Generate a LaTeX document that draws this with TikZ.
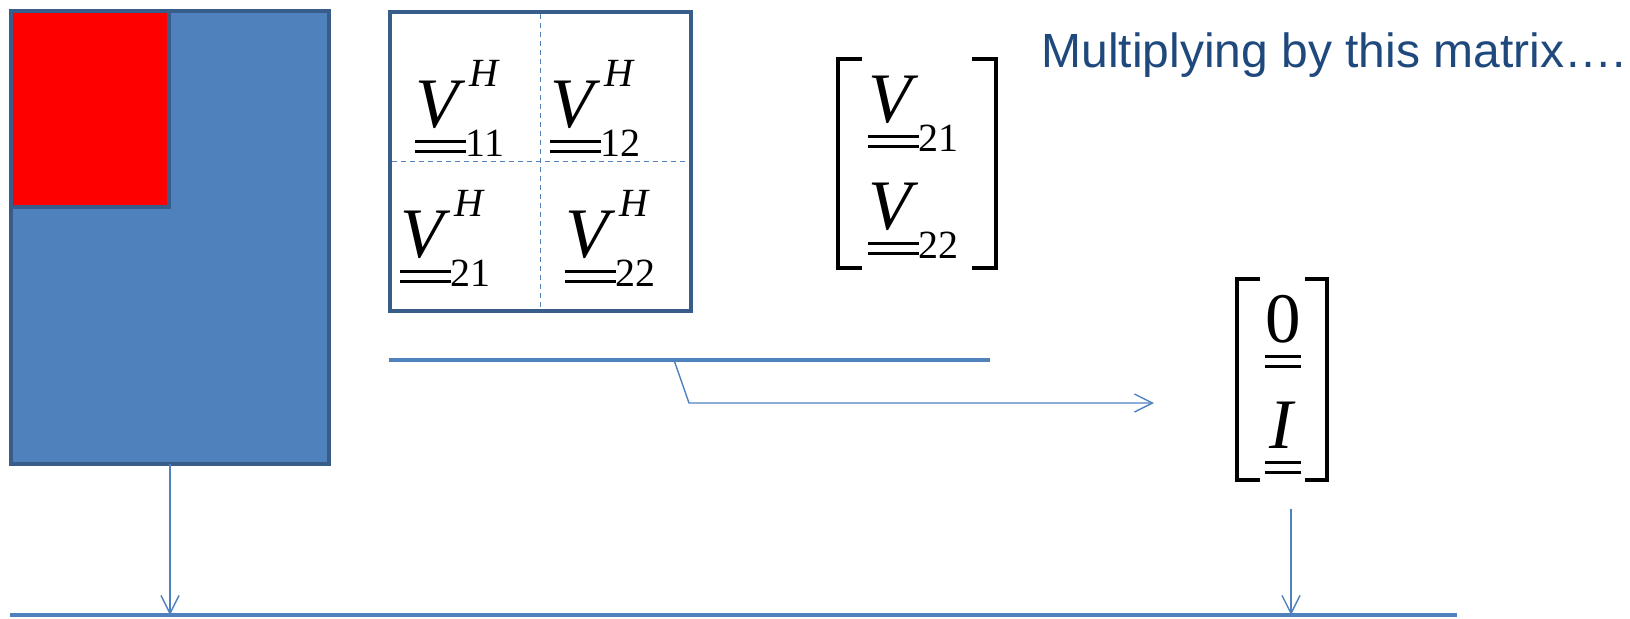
\documentclass[tikz,border=0pt]{standalone}
\usepackage{fontspec}
\setmainfont{Liberation Serif}
\newfontfamily\slidefont{Liberation Sans}
\usetikzlibrary{arrows.meta, positioning}

\definecolor{blockblue}{HTML}{4F81BD}
\definecolor{edgeblue}{HTML}{385D8A}
\definecolor{titleblue}{HTML}{1F497D}

\newcommand{\bigfont}{\fontsize{35.5}{40}\selectfont}
\newcommand{\subfont}{\fontsize{20}{24}\selectfont}
% symbol with a double bar under it
\newcommand{\dbar}[1]{\setbox0\hbox{#1}%
  \rlap{\copy0}%
  \rlap{\raisebox{-0.23em}{\rule{\wd0}{0.045em}}}%
  \raisebox{-0.37em}{\rule{\wd0}{0.045em}}}
\newcommand{\bv}{\textit{V}}
\newcommand{\vh}[1]{\dbar{\bv}\rlap{\hspace{0.06em}\raisebox{0.57em}{\subfont\textit{H}}}\raisebox{-0.42em}{\subfont #1}}
\newcommand{\vs}[1]{\dbar{\bv}\raisebox{-0.42em}{\subfont #1}}

\begin{document}
\begin{tikzpicture}[
    x=0.5pt, y=-0.5pt,
    block/.style  ={draw=edgeblue, line width=2pt, fill=blockblue, outer sep=0pt, inner sep=0pt},
    hot/.style    ={draw=edgeblue, line width=2pt, fill=red, outer sep=0pt, inner sep=0pt},
    frame/.style  ={draw=edgeblue, line width=2pt, fill=white, outer sep=0pt, inner sep=0pt},
    grid/.style   ={draw=blockblue, line width=0.8pt, dash pattern=on 2.5pt off 2pt,
                    shorten <=1pt, shorten >=1pt},
    entry/.style  ={inner sep=0pt, anchor=base west, font=\bigfont},
    bracket/.style={line width=1.7pt},
    rule/.style   ={draw=blockblue, line width=1.8pt},
    arrow/.style  ={draw=blockblue, line width=0.7pt, -{Straight Barb[length=9pt, width=9pt]}},
]
\useasboundingbox (0,0) rectangle (1630,618);

% ── Blocks ─────────────────────────────────────────────────────────────
\node[block, anchor=north west, minimum width=159pt, minimum height=226.5pt] (mem) at (11,11) {};
\node[hot,   anchor=north west, minimum width=79pt,  minimum height=98pt]    (part) at (11,11) {};

% ── Hermitian matrix ───────────────────────────────────────────────────
\node[frame, anchor=north west, minimum width=150.5pt, minimum height=149.5pt] (mat) at (390,12) {};
\draw[grid] (mat.north) -- (mat.south);
\draw[grid] (mat.west)  -- (mat.east);
\node[entry] (v11) at (415,127) {\vh{11}};
\node[entry] (v12) at (550,127) {\vh{12}};
\node[entry] (v21) at (400,257) {\vh{21}};
\node[entry] (v22) at (565,257) {\vh{22}};

% ── Column blocks ──────────────────────────────────────────────────────
\node[entry] (col1) at (868,122) {\vs{21}};
\node[entry] (col2) at (868,229) {\vs{22}};
\draw[bracket] (862,59) -| (838,268) -- (862,268);
\draw[bracket] (972,59) -| (996,268) -- (972,268);

\node[entry, anchor=base] (zero) at (1283,342) {\dbar{0}};
\node[entry, anchor=base] (eye)  at (1283,448) {\dbar{\makebox[0.5em]{\textit{I}}}};
\draw[bracket] (1260,279) -| (1237,480) -- (1260,480);
\draw[bracket] (1305,279) -| (1327,480) -- (1305,480);

% ── Caption ────────────────────────────────────────────────────────────
\node[anchor=base west, inner sep=0pt, text=titleblue,
      font=\slidefont\fontsize{24}{28}\selectfont] (title) at (1041,67)
      {Multiplying by this matrix….};

% ── Lines and arrows ───────────────────────────────────────────────────
\coordinate (ruleL) at (389,360);
\coordinate (ruleR) at (990,360);
\coordinate (tap)   at (674,360);
\coordinate (knee)  at (689,403);
\coordinate (aim)   at (1154,403);
\coordinate (baseL) at (10,615);
\coordinate (baseR) at (1457,615);
\coordinate (drop)  at (1291,509);

\draw[rule]  (ruleL) -- (ruleR);
\draw[arrow] (tap) -- (knee) -- (aim);
\draw[arrow] (mem.south) -- (mem.south |- baseL);
\draw[arrow] (drop) -- (drop |- baseL);
\draw[rule]  (baseL) -- (baseR);

\end{tikzpicture}
\end{document}
